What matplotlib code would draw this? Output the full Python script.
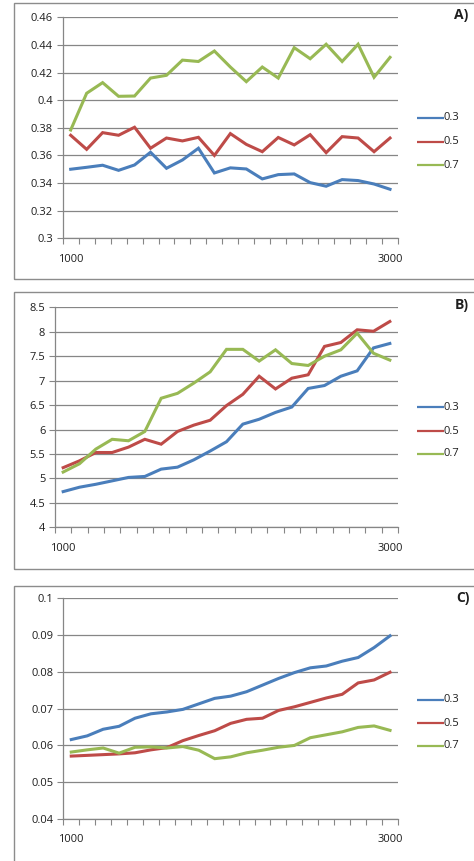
import matplotlib
matplotlib.use("Agg")
import matplotlib.pyplot as plt
from matplotlib.patches import Rectangle
from matplotlib.lines import Line2D
import numpy as np

plt.rcParams['font.family'] = ['Open Sans', 'DejaVu Sans']

# x categories: 1000 .. 3000 in steps of 100
sizes = list(range(1000, 3001, 100))
x_labels = {0: "1000", 20: "3000"}
series_names = ["0.3", "0.5", "0.7"]
colors = ["#4A7EBB", "#BE4B48", "#98B954"]

a_03 = [0.350, 0.3514, 0.3529, 0.3492, 0.3531, 0.3623, 0.3507, 0.3567, 0.3652, 0.3473,
        0.351, 0.3502, 0.343, 0.3461, 0.3466, 0.3403, 0.3377, 0.3425, 0.3418, 0.3393, 0.3355]
a_05 = [0.3746, 0.3644, 0.3765, 0.3746, 0.3804, 0.3652, 0.3726, 0.3705, 0.3731, 0.360,
        0.3758, 0.368, 0.3627, 0.373, 0.3676, 0.375, 0.362, 0.3736, 0.3726, 0.3627, 0.3726]
a_07 = [0.3784, 0.405, 0.4127, 0.4028, 0.403, 0.416, 0.418, 0.429, 0.428, 0.4356,
        0.424, 0.4134, 0.424, 0.416, 0.438, 0.430, 0.4405, 0.428, 0.4405, 0.4166, 0.431]

b_03 = [4.73, 4.82, 4.88, 4.95, 5.02, 5.04, 5.19, 5.23, 5.38, 5.56,
        5.75, 6.11, 6.21, 6.35, 6.46, 6.84, 6.90, 7.09, 7.20, 7.67, 7.76]
b_05 = [5.22, 5.36, 5.53, 5.53, 5.64, 5.80, 5.70, 5.96, 6.09, 6.19,
        6.49, 6.72, 7.09, 6.83, 7.05, 7.12, 7.70, 7.78, 8.04, 8.01, 8.21]
b_07 = [5.13, 5.30, 5.60, 5.80, 5.77, 5.96, 6.64, 6.74, 6.95, 7.18,
        7.64, 7.64, 7.40, 7.63, 7.35, 7.31, 7.50, 7.63, 7.97, 7.56, 7.42]

c_03 = [0.0616, 0.0626, 0.0644, 0.0652, 0.0674, 0.0686, 0.0691, 0.0698, 0.0713, 0.0728,
        0.0734, 0.0746, 0.0764, 0.0782, 0.0798, 0.0811, 0.0816, 0.0829, 0.0839, 0.0866, 0.0898]
c_05 = [0.0571, 0.0573, 0.0575, 0.0577, 0.0580, 0.0588, 0.0594, 0.0613, 0.0627, 0.0640,
        0.0660, 0.0671, 0.0674, 0.0695, 0.0705, 0.0717, 0.0729, 0.0739, 0.0770, 0.0778, 0.0799]
c_07 = [0.0582, 0.0588, 0.0593, 0.0579, 0.0595, 0.0596, 0.0593, 0.0597, 0.0587, 0.0564,
        0.0569, 0.0580, 0.0587, 0.0595, 0.0600, 0.0621, 0.0629, 0.0637, 0.0649, 0.0653, 0.0641]

a_ticks = [0.30, 0.32, 0.34, 0.36, 0.38, 0.40, 0.42, 0.44, 0.46]
a_ticklabels = ["0.3", "0.32", "0.34", "0.36", "0.38", "0.4", "0.42", "0.44", "0.46"]
b_ticks = [4, 4.5, 5, 5.5, 6, 6.5, 7, 7.5, 8, 8.5]
b_ticklabels = ["4", "4.5", "5", "5.5", "6", "6.5", "7", "7.5", "8", "8.5"]
c_ticks = [0.04, 0.05, 0.06, 0.07, 0.08, 0.09, 0.10]
c_ticklabels = ["0.04", "0.05", "0.06", "0.07", "0.08", "0.09", "0.1"]

W, H = 474, 861
fig = plt.figure(figsize=(W / 100, H / 100), dpi=100)
fig.patch.set_facecolor("white")

GRID = "#868686"
FRAME = "#8c8c8c"
TEXT = "#1e1e1e"


def px_rect(left, right, top, bottom):
    return [left / W, 1 - bottom / H, (right - left) / W, (bottom - top) / H]


def frame(top, bottom, left=14, right=490):
    fig.add_artist(Rectangle((left / W, 1 - bottom / H), (right - left) / W, (bottom - top) / H,
                             transform=fig.transFigure, fill=False, ec=FRAME, lw=1.0))


def legend(ys):
    for name, col, y in zip(series_names, colors, ys):
        yf = 1 - y / H
        fig.add_artist(Line2D([417 / W, 444 / W], [yf, yf], transform=fig.transFigure,
                              color=col, lw=1.6, solid_capstyle="butt"))
        fig.text(444 / W, yf, name, ha="left", va="center", fontsize=8, color=TEXT)


def panel(rect, data, ticks, ticklabels, label, label_xy, legend_ys):
    ax = fig.add_axes(rect)
    x = np.arange(len(sizes))
    for vals, col in zip(data, colors):
        ax.plot(x, vals, color=col, lw=2.2, solid_joinstyle="miter")
    ax.set_xlim(-0.5, len(sizes) - 0.5)
    ax.set_ylim(ticks[0], ticks[-1])
    ax.set_yticks(ticks)
    ax.set_yticklabels(ticklabels, fontsize=8, color=TEXT)
    ax.set_xticks(list(x_labels.keys()))
    ax.set_xticklabels(list(x_labels.values()), fontsize=8, color=TEXT)
    ax.set_xticks(np.arange(len(sizes) + 1) - 0.5, minor=True)
    ax.tick_params(axis="x", which="major", length=0, pad=11)
    ax.tick_params(axis="x", which="minor", length=4, width=0.8, color=GRID, direction="out")
    ax.tick_params(axis="y", length=4, width=0.8, color=GRID, pad=3)
    ax.grid(axis="y", color=GRID, lw=0.9)
    ax.set_axisbelow(True)
    for s in ("top", "right"):
        ax.spines[s].set_visible(False)
    for s in ("left", "bottom"):
        ax.spines[s].set_color(GRID)
        ax.spines[s].set_linewidth(0.9)
    fig.text(label_xy[0] / W, 1 - label_xy[1] / H, label, ha="center", va="center",
             fontsize=10, fontweight="bold", color=TEXT)
    legend(legend_ys)
    return ax


frame(3.3, 279)
panel(px_rect(62.7, 398, 17.3, 238.3), [a_03, a_05, a_07], a_ticks, a_ticklabels,
      "A)", (461, 15), (118, 142, 165))

frame(292, 569)
panel(px_rect(55, 398, 307.3, 527.3), [b_03, b_05, b_07], b_ticks, b_ticklabels,
      "B)", (462, 305), (407, 431, 454))

frame(586, 880)
panel(px_rect(63.3, 398, 598.3, 819), [c_03, c_05, c_07], c_ticks, c_ticklabels,
      "C)", (463, 598), (700, 723, 746))

fig.savefig("out.png", dpi=100, facecolor="white")
